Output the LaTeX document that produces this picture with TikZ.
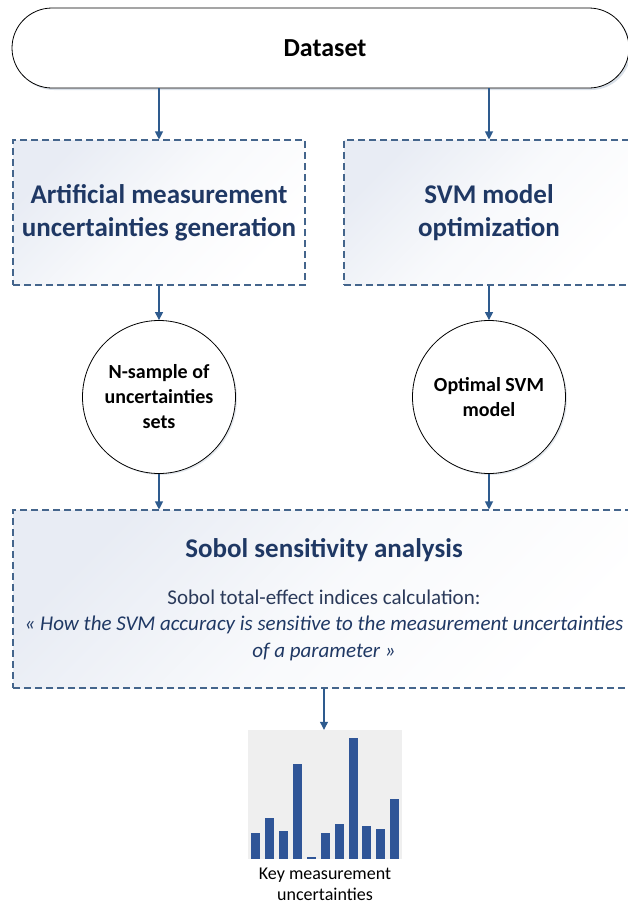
\documentclass[tikz,border=0pt]{standalone}
\usepackage{fontspec}
\setmainfont{Carlito}
\usetikzlibrary{arrows.meta,shadows}
\definecolor{navy}{HTML}{1F3864}
\definecolor{edgec}{HTML}{44658C}
\definecolor{arrowc}{HTML}{2E5B8E}
\definecolor{boxfill}{HTML}{E8ECF4}
\definecolor{barc}{HTML}{2F5597}
\definecolor{chartbg}{HTML}{EFEFEF}
\definecolor{bodyc}{HTML}{2B3A5A}
\begin{document}
\begin{tikzpicture}[x=1pt,y=-1pt,
  dbox/.style={draw=edgec, line width=1.1pt, dash pattern=on 7pt off 4pt,
    top color=boxfill, bottom color=white, middle color=boxfill!30, shading angle=45, inner sep=0pt},
  title/.style={font=\fontsize{27}{33}\selectfont\bfseries, text=navy, align=center},
  circ/.style={circle, draw=black, line width=0.8pt, fill=white, minimum size=153pt, inner sep=0pt,
    font=\fontsize{20}{25}\selectfont\bfseries, align=center,
    drop shadow={shadow xshift=1.5pt, shadow yshift=-1.5pt, opacity=0.15, fill=edgec}},
  arr/.style={-{Triangle[width=8pt,length=8pt]}, draw=arrowc, fill=arrowc, line width=1.1pt},
  txt/.style={inner sep=0pt, align=center}]
\clip (0,0) rectangle (628,906);
\fill[white] (0,0) rectangle (628,906);

% Dataset
\node[draw=black, line width=0.8pt, fill=white, rounded corners=40pt, minimum width=617pt, minimum height=80pt,
  drop shadow={shadow xshift=2pt, shadow yshift=-2pt, opacity=0.2, fill=edgec}] (ds) at (320.5,48) {};
\node[txt, font=\fontsize{26}{30}\selectfont\bfseries] (dst) at (325,48) {Dataset};

% dashed boxes
\node[dbox, minimum width=292pt, minimum height=145pt] (art) at (159,212.5) {};
\node[title] (artt) at (art.center) {Artificial measurement\\uncertainties generation};
\node[dbox, minimum width=290pt, minimum height=145pt] (svm) at (489,212.5) {};
\node[title] (svmt) at (svm.center) {SVM model\\optimization};

% circles
\node[circ] (ns) at (159,397) {N-sample of\\uncertainties\\sets};
\node[circ] (opt) at (489,397) {Optimal SVM\\model};

% Sobol box
\node[dbox, minimum width=622pt, minimum height=178pt] (sob) at (324,599) {};
\node[txt, font=\fontsize{27}{30}\selectfont\bfseries, text=navy] (sobt) at (324,550) {Sobol sensitivity analysis};
\node[txt, font=\fontsize{21}{26}\selectfont, text=bodyc] (sobs) at (324,597) {Sobol total-effect indices calculation:};
\node[txt, font=\fontsize{21}{27}\selectfont\itshape, text=navy] (sobq) at (324,638) {« How the SVM accuracy is sensitive to the measurement uncertainties\\of a parameter »};

% chart
\node[fill=chartbg, minimum width=154pt, minimum height=129pt, inner sep=0pt] (chart) at (325,794.5) {};
\foreach \bx/\bt in {251/833,265/818,279/831,293/764,307/857,321/833,335/824,349/738,362/826,376/829,390/799}
  \fill[barc] (\bx,\bt) rectangle ++(9,859-\bt);
\node[txt, font=\fontsize{18}{21}\selectfont] (key) at (325,884) {Key measurement\\uncertainties};

% connectors
\draw[arr] (ds.south -| art.north) -- (art.north);
\draw[arr] (ds.south -| svm.north) -- (svm.north);
\draw[arr] (art.south) -- (ns.north);
\draw[arr] (svm.south) -- (opt.north);
\draw[arr] (ns.south) -- (ns.south |- sob.north);
\draw[arr] (opt.south) -- (opt.south |- sob.north);
\draw[arr] (sob.south) -- (sob.south |- chart.north);
\end{tikzpicture}
\end{document}
